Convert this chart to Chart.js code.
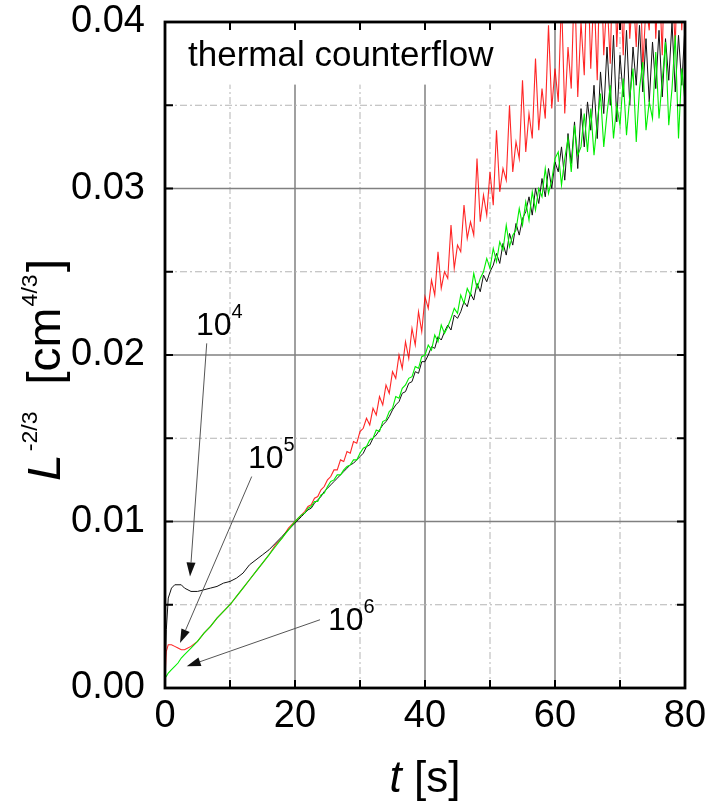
<!DOCTYPE html>
<html><head><meta charset="utf-8">
<script src="https://cdn.jsdelivr.net/npm/chart.js@4.4.1/dist/chart.umd.min.js"></script>
<style>html,body{margin:0;padding:0;background:#fff}#wrap{width:710px;height:811px}</style>
</head><body><div id="wrap"><canvas id="c" width="710" height="811"></canvas></div>
<script>
// time axis [s]
const time = [0,0.2,0.5,1,1.5,2,2.5,3,4,5,6,7,8,9,10,11,12,13,14,15,16,17,18,19,20,
20.5,21,21.5,22,22.5,23,23.5,24,24.5,25,
25.5,26,26.5,27,27.5,28,28.5,29,29.5,30,
30.5,31,31.5,32,32.5,33,33.5,34,34.5,35,
35.5,36,36.5,37,37.5,38,38.5,39,39.5,40,
40.5,41,41.5,42,42.5,43,43.5,44,44.5,45,
45.5,46,46.5,47,47.5,48,48.5,49,49.5,50,
50.5,51,51.5,52,52.5,53,53.5,54,54.5,55,
55.5,56,56.5,57,57.5,58,58.5,59,59.5,60,
60.5,61,61.5,62,62.5,63,63.5,64,64.5,65,
65.5,66,66.5,67,67.5,68,68.5,69,69.5,70,
70.5,71,71.5,72,72.5,73,73.5,74,74.5,75,
75.5,76,76.5,77,77.5,78,78.5,79,79.5,80];

// L^-2/3 for initial densities 10^6 (green), 10^4 (black), 10^5 (red)
const series1e6 = [0.0006,0.0007,0.0009,0.0011,0.0013,0.0015,0.0018,0.0020,0.0024,0.0028,0.0033,0.0037,0.0042,0.0046,0.0050,0.0055,0.0060,0.0065,0.0070,0.0075,0.0080,0.0085,0.0090,0.0095,0.0100,
0.0102,0.0104,0.0105,0.0108,0.0109,0.0112,0.0112,0.0116,0.0117,0.0121,
0.0124,0.0125,0.0128,0.0128,0.0131,0.0133,0.0134,0.0137,0.0137,0.0141,
0.0144,0.0145,0.0149,0.0150,0.0155,0.0154,0.0160,0.0161,0.0166,0.0168,
0.0175,0.0174,0.0180,0.0182,0.0186,0.0187,0.0193,0.0192,0.0199,0.0200,
0.0206,0.0203,0.0212,0.0208,0.0218,0.0213,0.0217,0.0222,0.0228,0.0225,
0.0236,0.0231,0.0240,0.0236,0.0249,0.0240,0.0246,0.0250,0.0258,0.0252,
0.0264,0.0256,0.0268,0.0263,0.0278,0.0265,0.0272,0.0275,0.0288,0.0278,
0.0292,0.0281,0.0298,0.0287,0.0300,0.0295,0.0312,0.0297,0.0305,0.0318,
0.0322,0.0302,0.0318,0.0330,0.0310,0.0338,0.0320,0.0325,0.0345,0.0322,
0.0348,0.0320,0.0340,0.0357,0.0325,0.0345,0.0362,0.0330,0.0350,0.0338,
0.0366,0.0332,0.0355,0.0372,0.0328,0.0360,0.0376,0.0335,0.0352,0.0342,
0.0382,0.0342,0.0365,0.0388,0.0338,0.0360,0.0392,0.0330,0.0372,0.0352];

const series1e4 = [0.0008,0.0035,0.0054,0.0060,0.0062,0.0062,0.0062,0.0060,0.0058,0.0058,0.0059,0.0060,0.0061,0.0063,0.0064,0.0066,0.0069,0.0074,0.0077,0.0080,0.0083,0.0087,0.0091,0.0095,0.0099,
0.0101,0.0103,0.0105,0.0107,0.0108,0.0111,0.0113,0.0115,0.0118,0.0120,
0.0122,0.0124,0.0126,0.0128,0.0130,0.0132,0.0134,0.0135,0.0137,0.0139,
0.0141,0.0145,0.0146,0.0150,0.0152,0.0155,0.0158,0.0160,0.0163,0.0167,
0.0170,0.0172,0.0177,0.0178,0.0183,0.0184,0.0190,0.0189,0.0196,0.0196,
0.0200,0.0205,0.0204,0.0211,0.0209,0.0214,0.0218,0.0215,0.0224,0.0222,
0.0226,0.0232,0.0229,0.0237,0.0233,0.0243,0.0238,0.0248,0.0244,0.0250,
0.0254,0.0261,0.0255,0.0267,0.0260,0.0273,0.0266,0.0279,0.0272,0.0282,
0.0286,0.0295,0.0284,0.0300,0.0291,0.0306,0.0295,0.0312,0.0300,0.0316,
0.0310,0.0325,0.0305,0.0333,0.0315,0.0340,0.0312,0.0348,0.0325,0.0352,
0.0335,0.0362,0.0330,0.0370,0.0345,0.0385,0.0350,0.0392,0.0340,0.0380,
0.0355,0.0395,0.0350,0.0385,0.0362,0.0398,0.0358,0.0390,0.0352,0.0388,
0.0360,0.0395,0.0355,0.0390,0.0365,0.0400,0.0358,0.0392,0.0362,0.0398];

const series1e5 = [0.0006,0.0022,0.0026,0.0026,0.0025,0.0024,0.0023,0.0023,0.0025,0.0028,0.0033,0.0037,0.0042,0.0046,0.0050,0.0055,0.0060,0.0065,0.0070,0.0075,0.0080,0.0086,0.0090,0.0096,0.0100,
0.0102,0.0104,0.0106,0.0109,0.0110,0.0114,0.0115,0.0119,0.0121,0.0125,
0.0127,0.0131,0.0131,0.0137,0.0136,0.0142,0.0141,0.0148,0.0147,0.0154,
0.0156,0.0162,0.0158,0.0168,0.0164,0.0175,0.0170,0.0182,0.0177,0.0190,
0.0186,0.0200,0.0192,0.0208,0.0198,0.0216,0.0206,0.0226,0.0214,0.0235,
0.0228,0.0245,0.0236,0.0262,0.0240,0.0250,0.0246,0.0278,0.0252,0.0266,
0.0262,0.0290,0.0270,0.0280,0.0272,0.0318,0.0280,0.0296,0.0284,0.0310,
0.0290,0.0335,0.0298,0.0312,0.0305,0.0350,0.0310,0.0328,0.0318,0.0365,
0.0322,0.0345,0.0330,0.0378,0.0335,0.0360,0.0342,0.0398,0.0348,0.0372,
0.0352,0.0415,0.0345,0.0385,0.0360,0.0428,0.0355,0.0400,0.0368,0.0440,
0.0372,0.0420,0.0365,0.0450,0.0380,0.0415,0.0375,0.0455,0.0385,0.0430,
0.0380,0.0455,0.0390,0.0420,0.0385,0.0450,0.0372,0.0410,0.0395,0.0460,
0.0390,0.0430,0.0380,0.0460,0.0400,0.0425,0.0385,0.0460,0.0395,0.0440];

const xTickLabels = [0, 20, 40, 60, 80];
const yTickLabels = ['0.00', '0.01', '0.02', '0.03', '0.04'];

// annotation placement (data units)
const curveNotes = [
  {base: '10', exp: '4', at: [4.77, 0.0212], arrowFrom: [6.42, 0.0207], arrowTo: [3.85, 0.0067]},
  {base: '10', exp: '5', at: [12.77, 0.0132], arrowFrom: [13.34, 0.0127], arrowTo: [2.31, 0.0027]},
  {base: '10', exp: '6', at: [25.08, 0.0035], arrowFrom: [23.85, 0.0041], arrowTo: [3.34, 0.0013]}
];
const boxNote = 'thermal counterflow';

const FONT = "'Liberation Sans', Arial, Helvetica, sans-serif";

function pts(ys) { return time.map((t, i) => ({x: t, y: ys[i]})); }

const decoPlugin = {
  id: 'deco',
  beforeDatasetsDraw(chart) {
    const {ctx, chartArea: a, scales: {x, y}} = chart;
    ctx.save();
    const lines = (scale, horiz) => {
      scale.ticks.forEach(tk => {
        const v = tk.value;
        if (v <= scale.min || v >= scale.max) return;
        const major = horiz ? Math.round(v * 1000) % 10 === 0 : v % 20 === 0;
        const p = scale.getPixelForValue(v);
        ctx.beginPath();
        if (major) { ctx.setLineDash([]); ctx.strokeStyle = '#808080'; ctx.lineWidth = 1.5; }
        else { ctx.setLineDash([7, 3, 2, 3]); ctx.strokeStyle = '#b4b4b4'; ctx.lineWidth = 1; }
        if (horiz) { ctx.moveTo(a.left, p); ctx.lineTo(a.right, p); }
        else { ctx.moveTo(p, a.top); ctx.lineTo(p, a.bottom); }
        ctx.stroke();
      });
    };
    lines(x, false);
    lines(y, true);
    ctx.setLineDash([]);
    // white box behind the note
    ctx.fillStyle = '#fff';
    const bx = x.getPixelForValue(55), by = y.getPixelForValue(0.0363);
    ctx.fillRect(a.left + 1, a.top + 1, bx - a.left, by - a.top);
    ctx.restore();
  },
  afterDatasetsDraw(chart) {
    const {ctx, chartArea: a, scales: {x, y}} = chart;
    ctx.save();
    // inward ticks on all sides
    ctx.strokeStyle = '#000';
    ctx.lineWidth = 2;
    const TL = 8;
    x.ticks.forEach(tk => {
      const p = x.getPixelForValue(tk.value);
      ctx.beginPath();
      ctx.moveTo(p, a.bottom); ctx.lineTo(p, a.bottom - TL);
      ctx.moveTo(p, a.top); ctx.lineTo(p, a.top + TL);
      ctx.stroke();
    });
    y.ticks.forEach(tk => {
      const p = y.getPixelForValue(tk.value);
      ctx.beginPath();
      ctx.moveTo(a.left, p); ctx.lineTo(a.left + TL, p);
      ctx.moveTo(a.right, p); ctx.lineTo(a.right - TL, p);
      ctx.stroke();
    });
    // frame
    ctx.lineWidth = 2.8;
    ctx.strokeRect(a.left, a.top, a.right - a.left, a.bottom - a.top);

    // note text
    ctx.fillStyle = '#000';
    ctx.font = '35px ' + FONT;
    ctx.textBaseline = 'alphabetic';
    ctx.textAlign = 'left';
    ctx.fillText(boxNote, a.left + 23, a.top + 44);

    // curve labels + arrows
    curveNotes.forEach(n => {
      const px = x.getPixelForValue(n.at[0]), py = y.getPixelForValue(n.at[1]);
      ctx.font = '32px ' + FONT;
      ctx.fillStyle = '#000';
      ctx.fillText(n.base, px, py);
      const w = ctx.measureText(n.base).width;
      ctx.font = '20px ' + FONT;
      ctx.fillText(n.exp, px + w, py - 17);
      const x1 = x.getPixelForValue(n.arrowFrom[0]), y1 = y.getPixelForValue(n.arrowFrom[1]);
      const x2 = x.getPixelForValue(n.arrowTo[0]), y2 = y.getPixelForValue(n.arrowTo[1]);
      const ang = Math.atan2(y2 - y1, x2 - x1), L = 14, W = 4.5;
      const hx = x2 - L * Math.cos(ang), hy = y2 - L * Math.sin(ang);
      ctx.strokeStyle = '#555';
      ctx.lineWidth = 1;
      ctx.beginPath(); ctx.moveTo(x1, y1); ctx.lineTo(hx, hy); ctx.stroke();
      ctx.fillStyle = '#111';
      ctx.beginPath();
      ctx.moveTo(x2, y2);
      ctx.lineTo(hx + W * Math.sin(ang), hy - W * Math.cos(ang));
      ctx.lineTo(hx - W * Math.sin(ang), hy + W * Math.cos(ang));
      ctx.closePath(); ctx.fill();
    });

    // x title: t [s]
    ctx.fillStyle = '#000';
    ctx.font = 'italic 44px ' + FONT;
    const wt = ctx.measureText('t').width;
    ctx.font = '44px ' + FONT;
    const ws = ctx.measureText(' [s]').width;
    let sx = (a.left + a.right) / 2 - (wt + ws) / 2;
    ctx.font = 'italic 44px ' + FONT;
    ctx.fillText('t', sx, 792);
    ctx.font = '44px ' + FONT;
    ctx.fillText(' [s]', sx + wt, 792);

    // y title: L^-2/3 [cm^4/3]
    const parts = [
      ['L', 'italic 46px ' + FONT, 0, 0],
      ['-2/3', '22px ' + FONT, -23, 3],
      ['  [cm', '46px ' + FONT, 0, 0],
      ['4/3', '22px ' + FONT, -23, 1],
      [']', '46px ' + FONT, 0, 2]
    ];
    let total = 0;
    parts.forEach(p => { ctx.font = p[1]; total += p[3] + ctx.measureText(p[0]).width; });
    ctx.save();
    ctx.translate(60, 481);
    ctx.rotate(-Math.PI / 2);
    ctx.scale(222 / total, 1);
    let off = 0;
    parts.forEach(p => {
      ctx.font = p[1];
      off += p[3];
      ctx.fillText(p[0], off, p[2]);
      off += ctx.measureText(p[0]).width;
    });
    ctx.restore();

    ctx.restore();
  }
};

new Chart(document.getElementById('c'), {
  type: 'line',
  data: {
    datasets: [
      {label: '10^6', data: pts(series1e6), borderColor: '#00ee00', borderWidth: 1.1},
      {label: '10^4', data: pts(series1e4), borderColor: '#111111', borderWidth: 1},
      {label: '10^5', data: pts(series1e5), borderColor: 'rgba(255,0,0,0.85)', borderWidth: 1.1}
    ]
  },
  options: {
    responsive: false,
    animation: false,
    devicePixelRatio: 1,
    parsing: true,
    elements: {point: {radius: 0}, line: {tension: 0}},
    layout: {padding: {left: 0, right: 25, top: 22, bottom: 0}},
    plugins: {legend: {display: false}, tooltip: {enabled: false}},
    scales: {
      x: {
        type: 'linear', min: 0, max: 80,
        grid: {display: false, drawTicks: false},
        border: {display: false},
        ticks: {
          stepSize: 10, autoSkip: false, maxRotation: 0, padding: 10,
          color: '#000', font: {size: 38, family: FONT, lineHeight: 1},
          callback: v => xTickLabels.includes(v) ? String(v) : ''
        },
        afterFit: s => { s.height = 123; s.paddingLeft = 0; s.paddingRight = 0; s.paddingTop = 0; s.paddingBottom = 0; }
      },
      y: {
        type: 'linear', min: 0, max: 0.04,
        grid: {display: false, drawTicks: false},
        border: {display: false},
        ticks: {
          stepSize: 0.005, autoSkip: false, padding: 20,
          color: '#000', font: {size: 38, family: FONT, lineHeight: 1},
          callback: v => { const s = v.toFixed(3); return yTickLabels.includes(v.toFixed(2)) && s.endsWith('0') ? v.toFixed(2) : ''; }
        },
        afterFit: s => { s.width = 165; s.paddingLeft = 0; s.paddingRight = 0; s.paddingTop = 0; s.paddingBottom = 0; }
      }
    }
  },
  plugins: [decoPlugin]
});
</script>
</body></html>
